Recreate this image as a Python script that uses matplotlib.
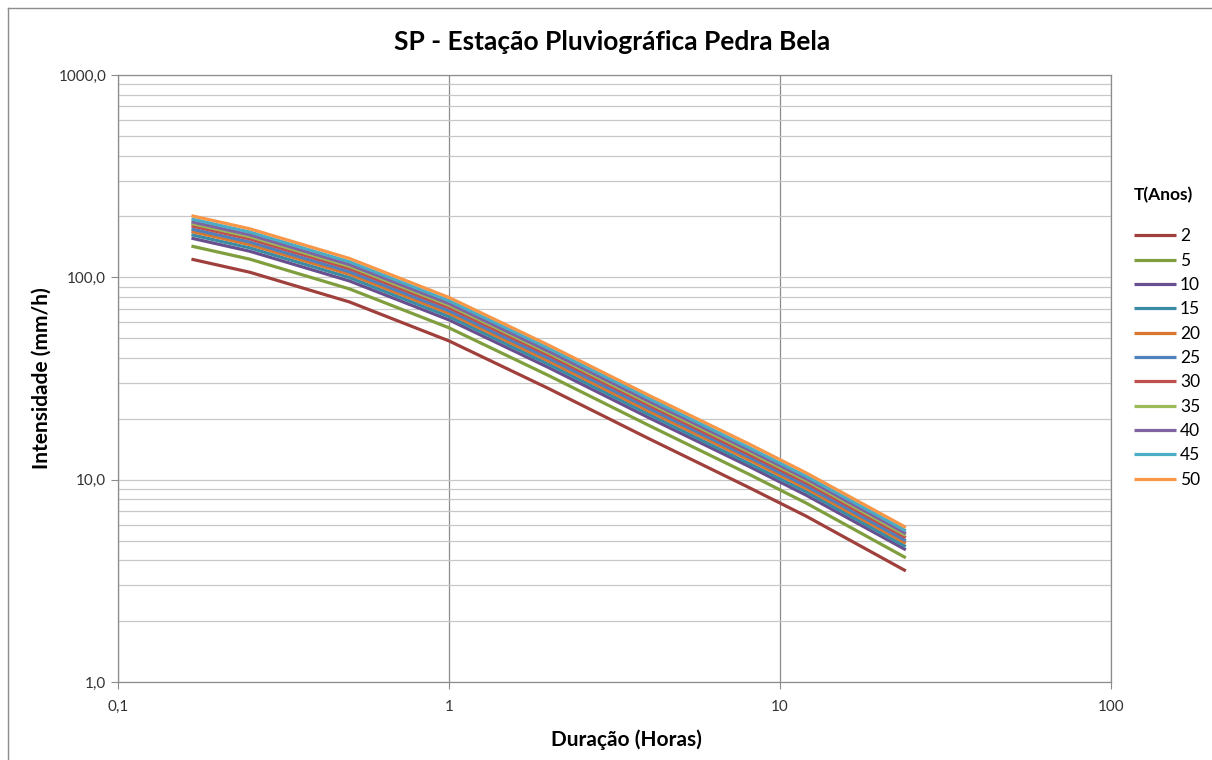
import matplotlib
matplotlib.use("Agg")
import matplotlib.pyplot as plt
from matplotlib.ticker import FixedLocator, FixedFormatter, LogLocator, NullFormatter
from matplotlib.lines import Line2D

plt.rcParams['font.family'] = ['Lato', 'DejaVu Sans']

duracao_h = [1/6, 0.25, 0.5, 1, 2, 4, 8, 12, 24]

T_labels = ["2", "5", "10", "15", "20", "25", "30", "35", "40", "45", "50"]

i_T2  = [123.0, 106.0, 75.6, 48.5, 28.2, 16.0, 9.2, 6.6, 3.54]
i_T5  = [142.7, 123.0, 87.7, 56.3, 32.7, 18.6, 10.7, 7.66, 4.11]
i_T10 = [156.2, 134.6, 96.0, 61.6, 35.8, 20.3, 11.7, 8.38, 4.50]
i_T15 = [162.4, 139.9, 99.8, 64.0, 37.2, 21.1, 12.1, 8.71, 4.67]
i_T20 = [168.5, 145.2, 103.6, 66.4, 38.6, 21.9, 12.6, 9.04, 4.85]
i_T25 = [173.4, 149.5, 106.6, 68.4, 39.8, 22.6, 13.0, 9.31, 4.99]
i_T30 = [179.6, 154.8, 110.4, 70.8, 41.2, 23.4, 13.4, 9.64, 5.17]
i_T35 = [184.5, 159.0, 113.4, 72.8, 42.3, 24.0, 13.8, 9.90, 5.31]
i_T40 = [188.2, 162.2, 115.7, 74.2, 43.1, 24.5, 14.1, 10.1, 5.42]
i_T45 = [194.3, 167.5, 119.4, 76.6, 44.6, 25.3, 14.5, 10.4, 5.59]
i_T50 = [201.7, 173.8, 124.0, 79.5, 46.2, 26.2, 15.1, 10.8, 5.81]

series = [i_T2, i_T5, i_T10, i_T15, i_T20, i_T25, i_T30, i_T35, i_T40, i_T45, i_T50]
colors = ['#A0403C', '#7F9E3E', '#6A4F8F', '#3A8CA5', '#D9772E', '#4F81BD',
          '#C0504D', '#9BBB59', '#8064A2', '#4BACC6', '#F79646']

fig = plt.figure(figsize=(12.12, 7.60), dpi=100)
ax = fig.add_axes([118/1212, 1 - 682/760, (1111 - 118)/1212, (682 - 75)/760])

for vals, lab, c in zip(series, T_labels, colors):
    ax.plot(duracao_h, vals, color=c, lw=2.3, label=lab, solid_capstyle='butt')

ax.set_xscale('log')
ax.set_yscale('log')
ax.set_xlim(0.1, 100)
ax.set_ylim(1, 1000)

ax.xaxis.set_major_locator(FixedLocator([0.1, 1, 10, 100]))
ax.xaxis.set_major_formatter(FixedFormatter(["0,1", "1", "10", "100"]))
ax.xaxis.set_minor_locator(FixedLocator([]))
ax.yaxis.set_major_locator(FixedLocator([1, 10, 100, 1000]))
ax.yaxis.set_major_formatter(FixedFormatter(["1,0", "10,0", "100,0", "1000,0"]))
ax.yaxis.set_minor_locator(LogLocator(base=10, subs=range(2, 10)))
ax.yaxis.set_minor_formatter(NullFormatter())

ax.grid(axis='x', which='major', color='#8C8C8C', lw=0.9)
ax.grid(axis='y', which='both', color='#C8C8C8', lw=0.9)
ax.set_axisbelow(True)

ax.tick_params(axis='both', which='major', direction='out', length=5, color='#8C8C8C',
               labelsize=11, labelcolor='#333333')
ax.tick_params(axis='y', which='minor', length=0)
ax.tick_params(axis='x', pad=8)
for s in ax.spines.values():
    s.set_color('#8C8C8C')
    s.set_linewidth(0.9)

fig.text(626/1212, 1 - 740/760, "Duração (Horas)", ha='center', va='center',
         fontsize=15, fontweight='bold')
fig.text(42/1212, 1 - 378/760, "Intensidade (mm/h)", ha='center', va='center',
         fontsize=15, fontweight='bold', rotation=90)
fig.text(612/1212, 1 - 42/760, "SP - Estação Pluviográfica Pedra Bela", ha='center', va='center',
         fontsize=19, fontweight='bold')

leg = ax.legend(loc='upper left', bbox_to_anchor=(1134/1212, 1 - 187/760),
                bbox_transform=fig.transFigure, frameon=False, title="T(Anos)",
                fontsize=12.5, handlelength=2.4, handletextpad=0.25, labelspacing=0.48,
                borderaxespad=0, borderpad=0)
leg.get_title().set_fontweight('bold')
leg.get_title().set_fontsize(12.5)
leg._legend_box.align = "left"
leg._legend_box.sep = 18

fig.add_artist(Line2D([8/1212, 8/1212], [0, 1 - 8/760], transform=fig.transFigure, color='#8C8C8C', lw=1))
fig.add_artist(Line2D([8/1212, 1], [1 - 8/760, 1 - 8/760], transform=fig.transFigure, color='#8C8C8C', lw=1))

fig.savefig("out.png", dpi=100)
